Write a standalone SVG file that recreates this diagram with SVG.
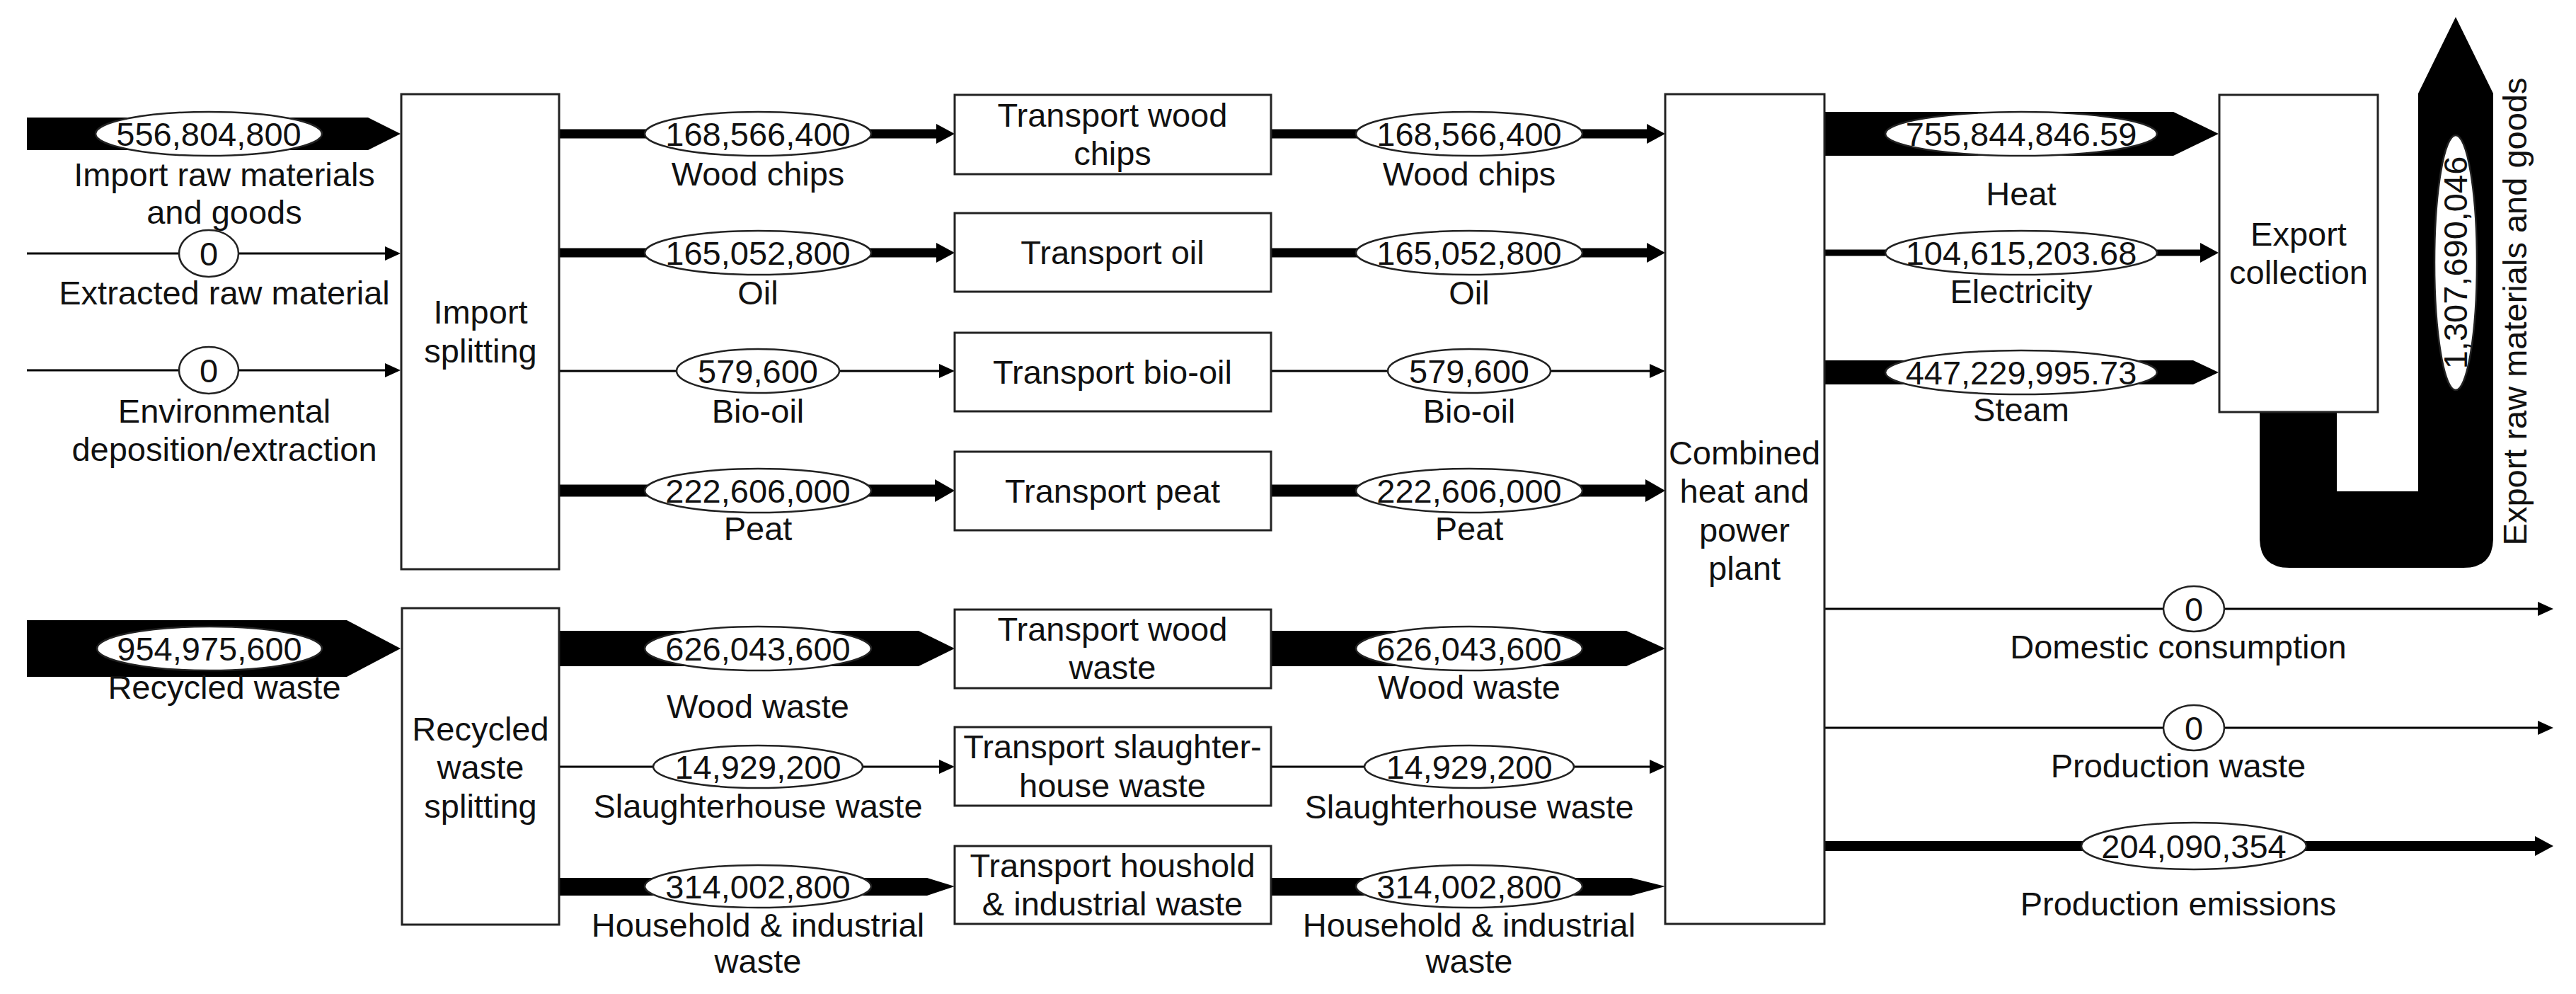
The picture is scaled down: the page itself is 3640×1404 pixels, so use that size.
<svg xmlns="http://www.w3.org/2000/svg" width="3640" height="1404" viewBox="0 0 3640 1404">
<style>
text{font-family:"Liberation Sans",Arial,sans-serif;font-size:47px;fill:#111;text-anchor:middle}
.box{fill:#fff;stroke:#222;stroke-width:3}
.blk{fill:#000;stroke:none}
.ln{stroke:#000;fill:none}
.t3{stroke-width:3}
.lbl{fill:#fff;stroke:#222;stroke-width:2.5}
</style>
<defs>
<marker id="hs" markerUnits="userSpaceOnUse" markerWidth="22" markerHeight="20" refX="0" refY="10" orient="auto"><path d="M0,0 L22,10 L0,20 Z" fill="#000"/></marker>
<marker id="hm" markerUnits="userSpaceOnUse" markerWidth="26" markerHeight="28" refX="0" refY="14" orient="auto"><path d="M0,0 L26,14 L0,28 Z" fill="#000"/></marker>
<marker id="hl" markerUnits="userSpaceOnUse" markerWidth="28" markerHeight="32" refX="0" refY="16" orient="auto"><path d="M0,0 L28,16 L0,32 Z" fill="#000"/></marker>
</defs>
<rect width="3640" height="1404" fill="#fff"/>

<g id="connectors">
<!-- inputs to import splitting -->
<polygon class="blk" points="38,166 520,166 566,189 520,212 38,212"/>
<line class="ln t3" x1="38" y1="358" x2="544" y2="358" marker-end="url(#hs)"/>
<line class="ln t3" x1="38" y1="523" x2="544" y2="523" marker-end="url(#hs)"/>
<polygon class="blk" points="38,876 490,876 566,916 490,956 38,956"/>
<!-- import splitting to transport -->
<line class="ln" stroke-width="13" x1="790" y1="189" x2="1323" y2="189" marker-end="url(#hm)"/>
<line class="ln" stroke-width="13" x1="790" y1="357" x2="1323" y2="357" marker-end="url(#hm)"/>
<line class="ln t3" x1="790" y1="524" x2="1327" y2="524" marker-end="url(#hs)"/>
<line class="ln" stroke-width="17" x1="790" y1="693" x2="1321" y2="693" marker-end="url(#hl)"/>
<!-- recycled splitting to transport -->
<polygon class="blk" points="790,891 1298,891 1349,916 1298,941 790,941"/>
<line class="ln t3" x1="790" y1="1083" x2="1327" y2="1083" marker-end="url(#hs)"/>
<polygon class="blk" points="790,1240 1310,1240 1349,1252 1310,1265 790,1265"/>
<!-- transport to CHP -->
<line class="ln" stroke-width="13" x1="1796" y1="189" x2="2327" y2="189" marker-end="url(#hm)"/>
<line class="ln" stroke-width="13" x1="1796" y1="357" x2="2327" y2="357" marker-end="url(#hm)"/>
<line class="ln t3" x1="1796" y1="524" x2="2331" y2="524" marker-end="url(#hs)"/>
<line class="ln" stroke-width="17" x1="1796" y1="693" x2="2325" y2="693" marker-end="url(#hl)"/>
<polygon class="blk" points="1796,891 2298,891 2353,916 2298,941 1796,941"/>
<line class="ln t3" x1="1796" y1="1083" x2="2331" y2="1083" marker-end="url(#hs)"/>
<polygon class="blk" points="1796,1240 2305,1240 2353,1252 2305,1265 1796,1265"/>
<!-- CHP outputs -->
<polygon class="blk" points="2578,158 3071,158 3135,189 3071,220 2578,220"/>
<line class="ln" stroke-width="9" x1="2578" y1="357" x2="3109" y2="357" marker-end="url(#hm)"/>
<polygon class="blk" points="2578,509 3099,509 3135,526 3099,543 2578,543"/>
<line class="ln t3" x1="2578" y1="860" x2="3586" y2="860" marker-end="url(#hs)"/>
<line class="ln t3" x1="2578" y1="1028" x2="3586" y2="1028" marker-end="url(#hs)"/>
<line class="ln" stroke-width="14" x1="2578" y1="1195" x2="3582" y2="1195" marker-end="url(#hm)"/>
<!-- export U arrow -->
<path class="blk" d="M3193,582 L3193,760 Q3193,802 3235,802 L3481,802 Q3523,802 3523,760 L3523,132 L3470,24 L3417,132 L3417,694 L3302,694 L3302,582 Z"/>

<!-- flow labels -->
<ellipse class="lbl" cx="295" cy="189" rx="160" ry="31"/><text x="295" y="206">556,804,800</text>
<text x="317" y="263">Import raw materials</text><text x="317" y="316">and goods</text>
<ellipse class="lbl" cx="295" cy="358" rx="42" ry="33"/><text x="295" y="375">0</text>
<text x="317" y="430">Extracted raw material</text>
<ellipse class="lbl" cx="295" cy="523" rx="42" ry="33"/><text x="295" y="540">0</text>
<text x="317" y="597">Environmental</text><text x="317" y="651">deposition/extraction</text>
<ellipse class="lbl" cx="296" cy="916" rx="159" ry="31"/><text x="296" y="933">954,975,600</text>
<text x="317" y="987">Recycled waste</text>

<ellipse class="lbl" cx="1071" cy="189" rx="160" ry="31"/><text x="1071" y="206">168,566,400</text><text x="1071" y="262">Wood chips</text>
<ellipse class="lbl" cx="1071" cy="357" rx="160" ry="31"/><text x="1071" y="374">165,052,800</text><text x="1071" y="430">Oil</text>
<ellipse class="lbl" cx="1071" cy="524" rx="115" ry="31"/><text x="1071" y="541">579,600</text><text x="1071" y="597">Bio-oil</text>
<ellipse class="lbl" cx="1071" cy="693" rx="160" ry="31"/><text x="1071" y="710">222,606,000</text><text x="1071" y="763">Peat</text>
<ellipse class="lbl" cx="1071" cy="916" rx="160" ry="31"/><text x="1071" y="933">626,043,600</text><text x="1071" y="1014">Wood waste</text>
<ellipse class="lbl" cx="1071" cy="1083" rx="148" ry="30"/><text x="1071" y="1100">14,929,200</text><text x="1071" y="1155">Slaughterhouse waste</text>
<ellipse class="lbl" cx="1071" cy="1252" rx="160" ry="30"/><text x="1071" y="1269">314,002,800</text><text x="1071" y="1323">Household &amp; industrial</text><text x="1071" y="1374">waste</text>

<ellipse class="lbl" cx="2076" cy="189" rx="160" ry="31"/><text x="2076" y="206">168,566,400</text><text x="2076" y="262">Wood chips</text>
<ellipse class="lbl" cx="2076" cy="357" rx="160" ry="31"/><text x="2076" y="374">165,052,800</text><text x="2076" y="430">Oil</text>
<ellipse class="lbl" cx="2076" cy="524" rx="115" ry="31"/><text x="2076" y="541">579,600</text><text x="2076" y="597">Bio-oil</text>
<ellipse class="lbl" cx="2076" cy="693" rx="160" ry="31"/><text x="2076" y="710">222,606,000</text><text x="2076" y="763">Peat</text>
<ellipse class="lbl" cx="2076" cy="916" rx="160" ry="31"/><text x="2076" y="933">626,043,600</text><text x="2076" y="987">Wood waste</text>
<ellipse class="lbl" cx="2076" cy="1083" rx="148" ry="30"/><text x="2076" y="1100">14,929,200</text><text x="2076" y="1156">Slaughterhouse waste</text>
<ellipse class="lbl" cx="2076" cy="1252" rx="160" ry="30"/><text x="2076" y="1269">314,002,800</text><text x="2076" y="1323">Household &amp; industrial</text><text x="2076" y="1374">waste</text>

<ellipse class="lbl" cx="2856" cy="189" rx="192" ry="31"/><text x="2856" y="206">755,844,846.59</text><text x="2856" y="290">Heat</text>
<ellipse class="lbl" cx="2856" cy="357" rx="192" ry="31"/><text x="2856" y="374">104,615,203.68</text><text x="2856" y="428">Electricity</text>
<ellipse class="lbl" cx="2856" cy="526" rx="192" ry="31"/><text x="2856" y="543">447,229,995.73</text><text x="2856" y="595">Steam</text>
<ellipse class="lbl" cx="3100" cy="860" rx="43" ry="32"/><text x="3100" y="877">0</text><text x="3078" y="930">Domestic consumption</text>
<ellipse class="lbl" cx="3100" cy="1028" rx="43" ry="32"/><text x="3100" y="1045">0</text><text x="3078" y="1098">Production waste</text>
<ellipse class="lbl" cx="3100" cy="1195" rx="159" ry="33"/><text x="3100" y="1212">204,090,354</text><text x="3078" y="1293">Production emissions</text>

<ellipse class="lbl" cx="3470" cy="371" rx="30" ry="180"/>
<text transform="translate(3486,371) rotate(-90)">1,307,690,046</text>
<text transform="translate(3570,440) rotate(-90)">Export raw materials and goods</text>
</g>

<g id="import-splitting"><rect class="box" x="567" y="133" width="223" height="671"/><text x="679" y="457">Import</text><text x="679" y="512">splitting</text></g>
<g id="recycled-waste-splitting"><rect class="box" x="568" y="859" width="222" height="447"/><text x="679" y="1046">Recycled</text><text x="679" y="1100">waste</text><text x="679" y="1155">splitting</text></g>
<g id="transport-wood-chips"><rect class="box" x="1349" y="134" width="447" height="112"/><text x="1572" y="179">Transport wood</text><text x="1572" y="233">chips</text></g>
<g id="transport-oil"><rect class="box" x="1349" y="301" width="447" height="111"/><text x="1572" y="373">Transport oil</text></g>
<g id="transport-bio-oil"><rect class="box" x="1349" y="470" width="447" height="111"/><text x="1572" y="542">Transport bio-oil</text></g>
<g id="transport-peat"><rect class="box" x="1349" y="638" width="447" height="111"/><text x="1572" y="710">Transport peat</text></g>
<g id="transport-wood-waste"><rect class="box" x="1349" y="861" width="447" height="111"/><text x="1572" y="905">Transport wood</text><text x="1572" y="959">waste</text></g>
<g id="transport-slaughterhouse-waste"><rect class="box" x="1349" y="1027" width="447" height="111"/><text x="1572" y="1071">Transport slaughter-</text><text x="1572" y="1126">house waste</text></g>
<g id="transport-household-waste"><rect class="box" x="1349" y="1195" width="447" height="110"/><text x="1572" y="1239">Transport houshold</text><text x="1572" y="1293">&amp; industrial waste</text></g>
<g id="chp-plant"><rect class="box" x="2353" y="133" width="225" height="1172"/><text x="2465" y="656">Combined</text><text x="2465" y="710">heat and</text><text x="2465" y="765">power</text><text x="2465" y="819">plant</text></g>
<g id="export-collection"><rect class="box" x="3136" y="134" width="224" height="448"/><text x="3248" y="347">Export</text><text x="3248" y="401">collection</text></g>
</svg>
